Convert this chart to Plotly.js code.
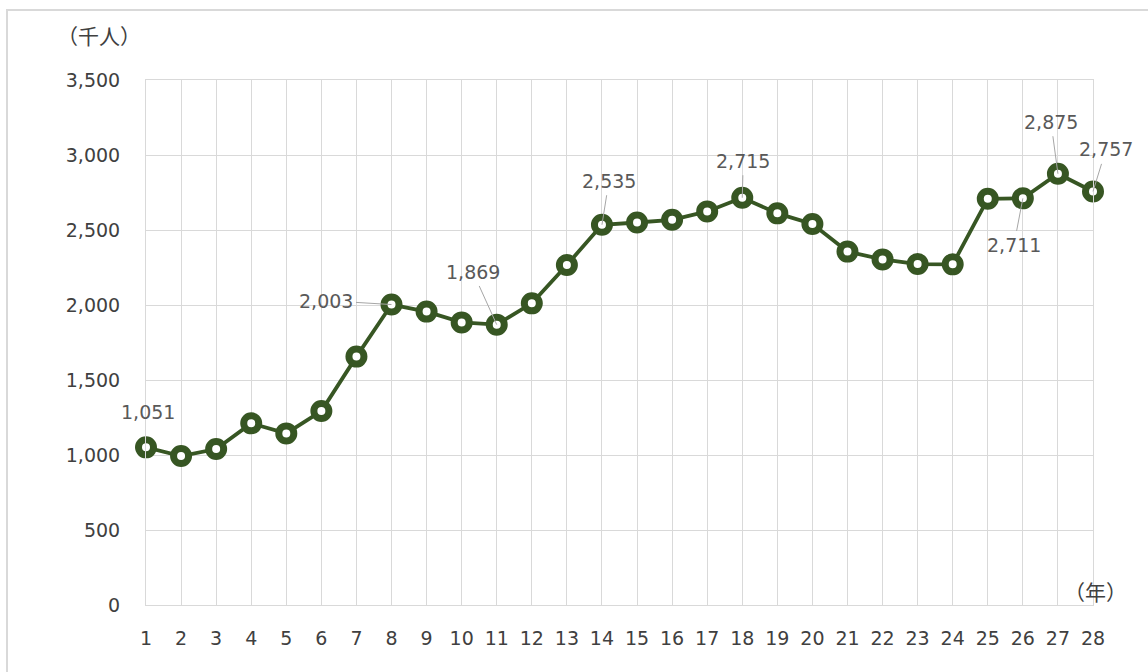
<!DOCTYPE html>
<html>
<head>
<meta charset="utf-8">
<script src="https://cdn.plot.ly/plotly-3.0.1.min.js"></script>
<style>
html,body{margin:0;padding:0;background:#fff;}
#wrap{position:relative;width:1148px;height:672px;overflow:hidden;}
#chart{width:1148px;height:672px;}
#frame{position:absolute;left:6px;top:9px;width:1160px;height:700px;border:2px solid #d9d9d9;box-sizing:border-box;pointer-events:none;}
</style>
</head>
<body>
<div id="wrap"><div id="chart"></div><div id="frame"></div></div>
<script>
// Data
const years = [1,2,3,4,5,6,7,8,9,10,11,12,13,14,15,16,17,18,19,20,21,22,23,24,25,26,27,28];
const visitors = [1051,993,1040,1211,1144,1293,1656,2003,1956,1884,1869,2011,2267,2535,2550,2568,2624,2715,2611,2540,2356,2304,2273,2271,2708,2711,2875,2757];
const labeledYears = [1,8,11,14,18,26,27,28];
const yTicks = [0,500,1000,1500,2000,2500,3000,3500];
const yTickText = ["0","500","1,000","1,500","2,000","2,500","3,000","3,500"];
const yUnit = "（千人）";
const xUnit = "（年）";

// Label offsets (px) for annotation placement
const labelOffsets = {
  1:{ax:2, ay:-35, arrow:false},
  8:{ax:-66, ay:-4, arrow:true},
  11:{ax:-24, ay:-53, arrow:true},
  14:{ax:7, ay:-44, arrow:true},
  18:{ax:1, ay:-37, arrow:true},
  26:{ax:-9, ay:47, arrow:true},
  27:{ax:-7, ay:-52, arrow:true},
  28:{ax:13, ay:-42, arrow:true}
};

const green = '#375623';
const numFont = '"DejaVu Sans", sans-serif';
const cjkFont = '"Noto Sans CJK JP", sans-serif';

const fmt = v => v.toLocaleString('en-US');

const annotations = labeledYears.map(yr => {
  const i = years.indexOf(yr);
  const o = labelOffsets[yr];
  const a = {x: years[i], y: visitors[i], xref:'x', yref:'y', text: fmt(visitors[i]),
    font:{family:numFont, size:19, color:'#595959'}};
  if (o.arrow) {
    Object.assign(a, {showarrow:true, ax:o.ax, ay:o.ay, axref:'pixel', ayref:'pixel',
      arrowhead:0, arrowwidth:1, arrowcolor:'#a6a6a6', standoff:0, startstandoff:2});
  } else {
    Object.assign(a, {showarrow:false, xshift:o.ax, yshift:-o.ay});
  }
  return a;
});
annotations.push({xref:'paper', yref:'paper', x:-0.096, y:1.0, yshift:45, xanchor:'left', yanchor:'middle',
  text:yUnit, showarrow:false, font:{family:cjkFont, size:21, color:'#404040'}});
annotations.push({xref:'paper', yref:'paper', x:1.0, y:0, yshift:-3, xshift:2, xanchor:'center', yanchor:'bottom',
  text:xUnit, showarrow:false, font:{family:cjkFont, size:21, color:'#404040'}});

const trace = {
  x: years, y: visitors, type:'scatter', mode:'lines+markers',
  line:{color:green, width:3.8},
  marker:{symbol:'circle', size:15, color:'#ffffff', line:{color:green, width:7}},
  cliponaxis:false, hoverinfo:'x+y'
};

const layout = {
  width:1148, height:672,
  margin:{l:146, r:55, t:80, b:67},
  paper_bgcolor:'#ffffff', plot_bgcolor:'#ffffff',
  showlegend:false,
  font:{family:numFont, size:19, color:'#404040'},
  xaxis:{range:[1,28], tickmode:'array', tickvals:years, ticktext:years.map(String),
    showgrid:true, gridcolor:'#d9d9d9', gridwidth:1, zeroline:false,
    showline:true, linecolor:'#d9d9d9', linewidth:1, mirror:true, ticks:'', ticklabelstandoff:16,
    tickfont:{family:numFont, size:19, color:'#404040'}, fixedrange:true},
  yaxis:{range:[0,3500], tickmode:'array', tickvals:yTicks, ticktext:yTickText,
    showgrid:true, gridcolor:'#d9d9d9', gridwidth:1, zeroline:false,
    showline:true, linecolor:'#d9d9d9', linewidth:1, mirror:true, ticks:'', ticklabelstandoff:21,
    tickfont:{family:numFont, size:19, color:'#404040'}, fixedrange:true},
  annotations: annotations
};

Plotly.newPlot('chart', [trace], layout, {displayModeBar:false, staticPlot:true});
</script>
</body>
</html>
